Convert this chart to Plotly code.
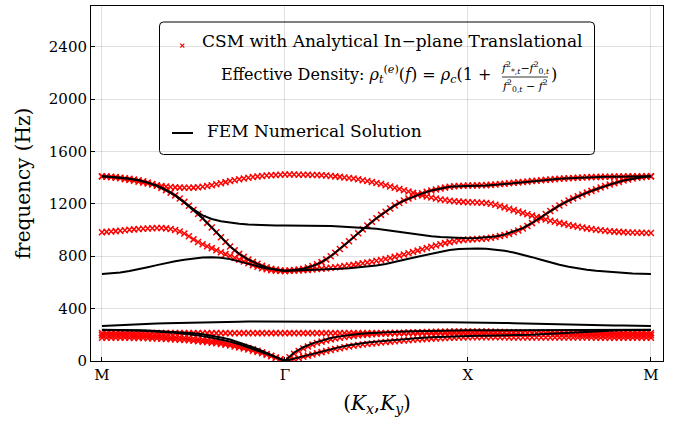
import numpy as np
import plotly.graph_objects as go

# ---------------- data ----------------
tick_pos = [0, 1, 2, 3]
tick_text = ["M", "Γ", "X", "M"]
y_ticks = [0, 400, 800, 1200, 1600, 2000, 2400]

# wave-vector path parameter (M -> Γ -> X -> M), one unit per segment
k_csm = np.linspace(0, 3, 121)
k_fem = np.linspace(0, 3, 61)

# CSM (analytical) bands, Hz
csm_r1 = [1410, 1407, 1403, 1399, 1395, 1389, 1383, 1376, 1369, 1362, 1355, 1348, 1341, 1337, 1333, 1329, 1326,
          1324, 1323, 1323, 1324, 1327, 1331, 1336, 1342, 1350, 1358, 1366, 1374, 1381, 1388, 1394, 1400, 1405,
          1409, 1413, 1416, 1419, 1421, 1423, 1424,
          1424, 1424, 1423, 1423, 1422, 1421, 1420, 1418, 1416, 1413, 1410, 1406, 1402, 1398, 1393, 1388, 1381,
          1374, 1367, 1360, 1351, 1342, 1333, 1323, 1314, 1304, 1294, 1284, 1274, 1265, 1256, 1248, 1241, 1234,
          1229, 1224, 1220, 1217, 1215, 1213,
          1212, 1211, 1209, 1206, 1201, 1193, 1183, 1173, 1162, 1152, 1141, 1131, 1121, 1110, 1099, 1089, 1080,
          1071, 1063, 1055, 1047, 1039, 1032, 1025, 1019, 1013, 1008, 1003, 999, 995, 991, 988, 986, 984, 982,
          981, 980, 979, 978, 978]
csm_r2 = [1410, 1409, 1407, 1404, 1400, 1396, 1392, 1386, 1380, 1372, 1362, 1351, 1338, 1322, 1305, 1286, 1265,
          1241, 1215, 1186, 1155, 1123, 1090, 1055, 1020, 983, 945, 909, 875, 845, 818, 795, 775, 757, 742, 728,
          715, 705, 698, 692, 688,
          690, 695, 699, 705, 714, 725, 739, 755, 776, 800, 826, 855, 885, 915, 945, 975, 1005, 1035, 1063, 1090,
          1116, 1140, 1165, 1188, 1207, 1225, 1241, 1255, 1268, 1280, 1292, 1302, 1310, 1318, 1324, 1330, 1334,
          1337, 1339, 1340,
          1340, 1341, 1342, 1343, 1345, 1348, 1351, 1354, 1357, 1361, 1364, 1367, 1370, 1374, 1377, 1380, 1383,
          1386, 1389, 1392, 1394, 1396, 1398, 1400, 1401, 1403, 1404, 1405, 1406, 1407, 1407, 1408, 1409, 1409,
          1410, 1410, 1410, 1410, 1410, 1410]
csm_r3 = [983, 986, 989, 992, 995, 998, 1002, 1005, 1008, 1010, 1012, 1014, 1015, 1015, 1013, 1008, 1000, 989,
          973, 952, 929, 909, 892, 877, 862, 846, 831, 816, 802, 788, 774, 760, 746, 732, 720, 709, 700, 694, 690,
          688, 688,
          689, 690, 692, 694, 696, 699, 702, 705, 708, 712, 716, 720, 725, 729, 734, 740, 746, 752, 758, 765, 772,
          779, 787, 795, 804, 813, 823, 833, 843, 853, 863, 872, 882, 891, 900, 908, 915, 921, 925, 928,
          929, 931, 933, 936, 941, 947, 954, 962, 971, 983, 996, 1012, 1031, 1053, 1075, 1098, 1122, 1145, 1167,
          1188, 1207, 1225, 1242, 1258, 1272, 1286, 1299, 1312, 1325, 1337, 1348, 1358, 1368, 1378, 1386, 1393,
          1399, 1403, 1407, 1410]
csm_r4 = [213, 213, 213, 213, 213, 213, 213, 213, 213, 213, 213,
          213, 213, 213, 213, 213, 213, 213, 213, 213, 213, 213,
          213, 213, 213, 213, 213, 213, 213, 213, 213, 213, 213,
          213, 213, 213, 213, 213, 213, 213, 213, 213, 213, 213,
          213, 213, 213, 213, 213, 213, 213, 213, 213, 213, 213,
          213, 213, 213, 213, 213, 213, 213, 213, 213, 213, 213,
          213, 213, 213, 213, 213, 213, 213, 213, 213, 213, 213,
          213, 213, 213, 213, 213, 213, 213, 213, 213, 213, 213,
          213, 213, 213, 213, 213, 213, 213, 213, 213, 213, 213,
          213, 213, 213, 213, 213, 213, 213, 213, 213, 213, 213,
          213, 213, 213, 213, 213, 213, 213, 213, 213, 213, 213]
csm_r5 = [196, 196, 196, 196, 196, 195, 195, 194, 194, 193, 192, 191, 190, 188, 187, 185, 183, 181, 178, 175,
          172, 168, 164, 160, 155, 150, 144, 138, 132, 125, 117, 109, 100, 89, 78, 66, 53, 40, 27, 13, 0,
          28, 55, 77, 95, 111, 125, 137, 148, 157, 165, 172, 178, 183, 188, 192, 196, 199, 201, 204, 206, 208,
          210, 211, 213, 214, 215, 217, 218, 219, 220, 221, 222, 223, 224, 224, 225, 225, 226, 226, 226,
          226, 226, 225, 225, 224, 223, 222, 221, 220, 219, 218, 217, 215, 214, 213, 211, 210, 209, 207, 206,
          205, 204, 203, 202, 201, 200, 200, 199, 199, 198, 198, 197, 197, 197, 196, 196, 196, 196, 196, 196]
csm_r6 = [178, 178, 178, 178, 178, 177, 177, 176, 176, 175, 174, 173, 172, 170, 169, 167, 165, 163, 160, 158,
          155, 151, 148, 144, 140, 135, 130, 124, 118, 111, 104, 96, 88, 79, 69, 59, 48, 36, 24, 12, 0,
          7, 15, 23, 32, 41, 50, 59, 68, 76, 84, 91, 98, 105, 111, 117, 122, 126, 130, 134, 138, 141, 145, 148,
          151, 154, 157, 159, 162, 164, 167, 169, 171, 173, 174, 176, 177, 178, 179, 180, 181,
          181, 181, 181, 181, 181, 181, 181, 181, 180, 180, 180, 180, 180, 180, 180, 180, 180, 179, 179, 179,
          179, 179, 179, 179, 179, 179, 179, 178, 178, 178, 178, 178, 178, 178, 178, 178, 178, 178, 178, 178]

# FEM numerical bands, Hz
fem_b1 = [236, 236, 235, 234, 232, 229, 226, 221, 215, 208, 200, 190, 178, 164, 148, 128, 105, 81, 55, 28, 0,
          18, 36, 55, 73, 90, 106, 120, 132, 141, 148, 155, 162, 168, 174, 178, 182, 185, 188, 190, 192,
          192, 192, 193, 194, 196, 198, 201, 205, 209, 213, 217, 221, 225, 228, 231, 233, 235, 236, 236, 236]
fem_b2 = [238, 238, 237, 236, 235, 233, 230, 226, 222, 217, 212, 204, 194, 180, 164, 142, 117, 92, 62, 31, 0,
          65, 105, 135, 158, 175, 188, 198, 206, 211, 216, 220, 223, 226, 228, 230, 231, 233, 234, 235, 235,
          235, 235, 235, 235, 235, 236, 236, 236, 236, 236, 236, 237, 237, 237, 237, 237, 237, 238, 238, 238]
fem_b3 = [268, 270, 272, 275, 279, 282, 286, 289, 291, 293, 295, 297, 298, 299, 300, 300, 301, 301, 301, 301, 301,
          301, 301, 301, 301, 301, 300, 300, 300, 300, 299, 299, 298, 298, 297, 297, 296, 296, 295, 295, 294,
          293, 292, 291, 290, 289, 287, 286, 284, 283, 281, 280, 278, 277, 275, 274, 272, 271, 270, 269, 268]
fem_b4 = [664, 669, 676, 687, 700, 716, 732, 748, 762, 774, 784, 790, 792, 788, 778, 762, 744, 724, 707, 696, 690,
          691, 693, 696, 699, 701, 704, 709, 715, 722, 730, 741, 755, 771, 788, 804, 820, 836, 848, 856, 860,
          860, 857, 852, 842, 828, 812, 793, 773, 753, 735, 720, 707, 697, 689, 683, 677, 673, 669, 666, 664]
fem_b5 = [1410, 1407, 1400, 1392, 1380, 1362, 1338, 1305, 1265, 1210, 1150, 1090, 1020, 945, 875, 818, 775, 742,
          715, 698, 688,
          695, 705, 725, 755, 800, 855, 915, 975, 1035, 1090, 1140, 1188, 1225, 1255, 1280, 1302, 1318, 1330,
          1335, 1336,
          1337, 1340, 1345, 1352, 1360, 1367, 1374, 1380, 1386, 1392, 1396, 1400, 1403, 1405, 1407, 1408, 1409,
          1410, 1410, 1410]
fem_b6 = [1410, 1407, 1400, 1392, 1380, 1362, 1338, 1306, 1265, 1212, 1158, 1112, 1085, 1068, 1056, 1048, 1043,
          1039, 1037, 1035, 1034,
          1034, 1034, 1033, 1032, 1030, 1028, 1024, 1020, 1015, 1009, 1000, 990, 980, 970, 960, 952, 946, 942,
          939, 938,
          939, 942, 950, 965, 987, 1015, 1054, 1098, 1145, 1188, 1225, 1258, 1286, 1312, 1337, 1358, 1378, 1393,
          1403, 1410]

csm_bands = [csm_r1, csm_r2, csm_r3, csm_r4, csm_r5, csm_r6]
fem_bands = [fem_b1, fem_b2, fem_b3, fem_b4, fem_b5, fem_b6]
for b in csm_bands:
    assert len(b) == len(k_csm), len(b)
for b in fem_bands:
    assert len(b) == len(k_fem), len(b)

legend_csm = "CSM with Analytical In\u2212plane Translational"
legend_csm2 = ("Effective Density: <i>\u03c1</i><sub><i>t</i></sub><sup>(<i>e</i>)</sup>(<i>f</i>) = "
               "<i>\u03c1</i><sub><i>c</i></sub>(1 +\u00a0")
frac_num = "<i>f</i><sup>2</sup><sub>*,<i>t</i></sub>\u2212<i>f</i><sup>2</sup><sub>0,<i>t</i></sub>"
frac_den = "<i>f</i><sup>2</sup><sub>0,<i>t</i></sub> \u2212 <i>f</i><sup>2</sup>"
legend_fem = "FEM Numerical Solution"

# ---------------- figure ----------------
FONT = "DejaVu Serif"
W, H = 679, 422
L, R, T, B = 91, 16, 6, 61

fig = go.Figure()
for band in csm_bands:
    fig.add_trace(go.Scatter(
        x=k_csm, y=band, mode="markers", showlegend=False, hoverinfo="skip",
        marker=dict(symbol="x-thin", size=6, color="red", line=dict(color="red", width=1.5))))
for band in fem_bands:
    fig.add_trace(go.Scatter(
        x=k_fem, y=band, mode="lines", showlegend=False, hoverinfo="skip",
        line=dict(color="black", width=2)))

grid = "rgba(0,0,0,0.12)"
fig.update_layout(
    width=W, height=H, margin=dict(l=L, r=R, t=T, b=B, autoexpand=False),
    paper_bgcolor="white", plot_bgcolor="white", showlegend=False,
    font=dict(family=FONT, color="black"),
)
fig.update_xaxes(
    range=[-0.06, 3.066], tickvals=tick_pos, ticktext=tick_text,
    showgrid=True, gridcolor=grid, gridwidth=1, zeroline=False,
    showline=True, linecolor="black", linewidth=1, mirror=True,
    ticks="inside", ticklen=4, tickcolor="black", tickfont=dict(size=15, family=FONT),
    title=dict(text="(<i>K</i><sub><i>x</i></sub>,<i>K</i><sub><i>y</i></sub>)",
               font=dict(size=20, family=FONT), standoff=12),
)
fig.update_yaxes(
    range=[0, 2711], tickvals=y_ticks,
    showgrid=True, gridcolor=grid, gridwidth=1, zeroline=False,
    showline=True, linecolor="black", linewidth=1, mirror=True,
    ticks="inside", ticklen=4, tickcolor="black", tickfont=dict(size=15, family=FONT),
    title=dict(text="frequency (Hz)", font=dict(size=20, family=FONT), standoff=12),
)

# ---------------- hand-made legend (paper coordinates) ----------------
PW, PH = W - L - R, H - T - B


def px(x):
    return (x - L) / PW


def py(y):
    return (H - B - y) / PH


x0, x1, yt, yb = px(159.5), px(594.5), py(22), py(154.5)
rx, ry = 4 / PW, 4 / PH
box = (f"M {x0+rx},{yt} L {x1-rx},{yt} Q {x1},{yt} {x1},{yt-ry} L {x1},{yb+ry} Q {x1},{yb} {x1-rx},{yb} "
       f"L {x0+rx},{yb} Q {x0},{yb} {x0},{yb+ry} L {x0},{yt-ry} Q {x0},{yt} {x0+rx},{yt} Z")
shapes = [
    dict(type="path", xref="paper", yref="paper", path=box, line=dict(color="black", width=1)),
    dict(type="path", xref="paper", yref="paper",
         path=f"M {px(180.3)},{py(43.7)} L {px(184.3)},{py(47.7)} M {px(180.3)},{py(47.7)} L {px(184.3)},{py(43.7)}",
         line=dict(color="red", width=1.2)),
    dict(type="line", xref="paper", yref="paper", x0=px(172), x1=px(193), y0=py(133), y1=py(133),
         line=dict(color="black", width=2)),
    dict(type="line", xref="paper", yref="paper", x0=px(502), x1=px(548), y0=py(77), y1=py(77),
         line=dict(color="black", width=0.8)),
]
ann = [
    dict(text=legend_csm, x=px(200), y=py(41), xanchor="left", yanchor="middle", font=dict(size=17)),
    dict(text=legend_csm2, x=px(498), y=py(75), xanchor="right", yanchor="middle", font=dict(size=16)),
    dict(text=frac_num, x=px(525), y=py(68), xanchor="center", yanchor="middle", font=dict(size=11)),
    dict(text=frac_den, x=px(525), y=py(86), xanchor="center", yanchor="middle", font=dict(size=11)),
    dict(text=")", x=px(549), y=py(75), xanchor="left", yanchor="middle", font=dict(size=16)),
    dict(text=legend_fem, x=px(205), y=py(131), xanchor="left", yanchor="middle", font=dict(size=17)),
]
for a in ann:
    a.update(xref="paper", yref="paper", showarrow=False,
             font=dict(family=FONT, color="black", size=a["font"]["size"]))
fig.update_layout(shapes=shapes, annotations=ann)

fig.write_html("out.html", config={"displayModeBar": False},
               post_script="document.body.style.margin='0';")
